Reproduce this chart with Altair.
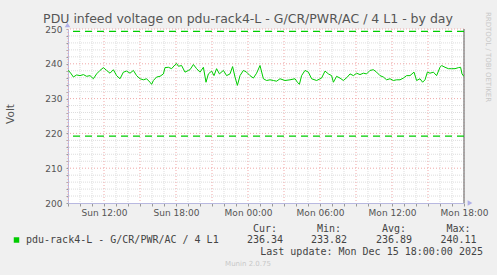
import altair as alt
import pandas as pd

# minutes after Sun 09:00 and voltage readings
minutes = [0, 10, 27, 43, 60, 77, 93, 110, 127, 143,
           160, 177, 193, 210, 227, 243, 260, 277, 293, 310,
           327, 343, 360, 377, 393, 410, 418, 427, 443, 460,
           477, 485, 502, 518, 535, 543, 552, 568, 585, 602,
           610, 627, 643, 660, 677, 690, 702, 718, 730, 743,
           757, 777, 793, 810, 823, 835, 847, 860, 877, 893,
           910, 927, 943, 960, 977, 993, 1010, 1027, 1043, 1060,
           1085, 1110, 1135, 1147, 1157, 1168, 1185, 1202, 1218, 1243,
           1268, 1285, 1302, 1318, 1327, 1343, 1360, 1377, 1397, 1410,
           1427, 1443, 1460, 1477, 1493, 1510, 1527, 1543, 1560, 1577,
           1593, 1610, 1627, 1643, 1660, 1677, 1693, 1710, 1730, 1743,
           1760, 1773, 1785, 1797, 1810, 1827, 1843, 1860, 1868, 1885,
           1902, 1918, 1935, 1952, 1963, 1970, 1980]
volts = [238.1, 237.6, 236.2, 236.8, 236.6, 236.9, 236.4, 236.6, 235.7, 237.1,
         238.1, 238.9, 238.1, 237.3, 238.3, 236.6, 235.7, 237.6, 237.9, 237.3,
         238.1, 236.6, 235.7, 235.4, 235.7, 234.7, 234.1, 235.2, 236.2, 236.4,
         237.1, 238.9, 239.0, 238.6, 239.7, 240.1, 239.3, 239.5, 237.6, 238.1,
         238.3, 239.8, 238.6, 237.6, 239.0, 234.7, 237.1, 237.9, 236.6, 238.6,
         237.1, 238.1, 236.6, 237.1, 239.2, 236.2, 233.8, 236.6, 238.1, 237.6,
         236.6, 235.9, 237.3, 239.5, 235.7, 235.2, 235.4, 235.2, 235.0, 235.7,
         235.2, 235.4, 235.7, 234.7, 234.1, 236.6, 238.1, 237.6, 235.7, 235.2,
         235.9, 237.9, 237.1, 236.6, 234.7, 236.4, 235.9, 235.2, 236.2, 237.1,
         236.6, 237.3, 236.9, 237.3, 237.1, 238.1, 238.3, 237.6, 236.6, 236.2,
         235.4, 235.7, 235.2, 235.4, 235.4, 235.9, 236.6, 236.6, 237.6, 235.2,
         235.7, 234.7, 235.4, 237.6, 237.3, 237.6, 236.6, 239.0, 239.5, 239.0,
         238.6, 238.6, 238.6, 238.9, 239.0, 237.1, 236.34]

warn_levels = [219.2, 249.3]
y_major = [210, 220, 230, 240, 250]
y_minor = [v for v in range(202, 250, 2) if v % 10 != 0]
x_major = list(range(0, 1981, 180))
x_minor = [m for m in range(60, 1981, 60) if m % 180 != 0]
tick_minutes = [180, 540, 900, 1260, 1620, 1980]
tick_labels = ["Sun 12:00", "Sun 18:00", "Mon 00:00", "Mon 06:00", "Mon 12:00", "Mon 18:00"]
y_labels = [200, 210, 220, 230, 240, 250]

series_name = "pdu-rack4-L - G/CR/PWR/AC / 4 L1"
stat_heads = ["Cur:", "Min:", "Avg:", "Max:"]
stat_values = ["236.34", "233.82", "236.89", "240.11"]

title_text = "PDU infeed voltage on pdu-rack4-L - G/CR/PWR/AC / 4 L1 - by day"

W, H = 396, 174
XMAX = 1980
xs = alt.Scale(domain=[0, XMAX], nice=False, zero=False)
ys = alt.Scale(domain=[200, 250], nice=False, zero=False)

x_label_expr = "".join(f"datum.value == {m} ? '{l}' : " for m, l in zip(tick_minutes, tick_labels)) + "''"
y_label_expr = "indexof([" + ",".join(str(v) for v in y_labels) + "], datum.value) >= 0 ? datum.value : ''"

x_axis = alt.Axis(
    values=list(range(0, 1981, 60)), labelExpr=x_label_expr, title=None,
    grid=False, domainColor="#B8B8E0", tickColor="#999999", tickSize=3,
    labelFont="DejaVu Sans", labelFontSize=9, labelColor="#555555",
    labelPadding=2, labelOverlap=False, labelFlush=False, labelBound=False)
y_axis = alt.Axis(
    values=list(range(200, 251, 2)), labelExpr=y_label_expr, title=None,
    grid=False, domainColor="#B8B8E0", tickColor="#999999", tickSize=2,
    labelFont="DejaVu Sans", labelFontSize=9, labelColor="#555555",
    labelPadding=4, labelOverlap=False, labelFlush=False, labelBound=False)

df = pd.DataFrame({"m": minutes, "v": volts})

base = alt.Chart(df).mark_line(color="#00CC00", strokeWidth=1, clip=True).encode(
    x=alt.X("m:Q", scale=xs, axis=x_axis),
    y=alt.Y("v:Q", scale=ys, axis=y_axis),
)

def hrules(vals, color, dash, width=1):
    return alt.Chart(pd.DataFrame({"y": vals})).mark_rule(color=color, strokeDash=dash, strokeWidth=width).encode(
        y=alt.Y("y:Q", scale=ys, axis=y_axis))

def vrules(vals, color, dash):
    return alt.Chart(pd.DataFrame({"x": vals})).mark_rule(color=color, strokeDash=dash, strokeWidth=1).encode(
        x=alt.X("x:Q", scale=xs, axis=x_axis))

grid_minor_h = hrules(y_minor, "#DDDDDD", [1, 1])
grid_minor_v = vrules(x_minor, "#DDDDDD", [1, 1])
grid_major_h = hrules(y_major, "#F0A8A8", [1, 2])
grid_major_v = vrules(x_major, "#F0A8A8", [1, 2])
warn = hrules(warn_levels, "#00CC00", [7, 5], width=1.2)
end_line = alt.Chart(pd.DataFrame({"x": [XMAX]})).mark_rule(color="#909090", strokeWidth=1.5).encode(
    x=alt.X("x:Q", scale=xs, axis=x_axis))

def txt(text, x, y, size=10, font="DejaVu Sans Mono", color="#444444", align="center", angle=0, baseline="middle"):
    return alt.Chart(pd.DataFrame({"t": [text]})).mark_text(
        font=font, fontSize=size, color=color, align=align, baseline=baseline, angle=angle
    ).encode(text="t:N", x=alt.value(x), y=alt.value(y))

OX, OY = 68, 29  # plot origin in page pixels

texts = [
    txt(title_text, 248 - OX, 19 - OY, size=12.5, font="DejaVu Sans", color="#555555"),
    txt("Volt", 11 - OX, 114 - OY, size=10.5, font="DejaVu Sans", color="#555555", angle=270),
    txt(series_name, 26 - OX, 240 - OY, align="left"),
    txt("Last update: Mon Dec 15 18:00:00 2025", 483 - OX, 252 - OY, align="right"),
    txt("Munin 2.0.75", 248 - OX, 264 - OY, size=7, font="DejaVu Sans", color="#C8C8C8"),
    txt("RRDTOOL / TOBI OETIKER", 488 - OX, 57 - OY, size=7, font="DejaVu Sans", color="#C8C8C8", angle=90),
]
head_x = [265, 329, 394, 458.5]
for hx, h, v in zip(head_x, stat_heads, stat_values):
    texts.append(txt(h, hx - OX, 229 - OY))
    texts.append(txt(v, hx - OX, 240 - OY))

legend_sq = alt.Chart(pd.DataFrame({"a": [1]})).mark_square(color="#00CC00", size=30, opacity=1).encode(
    x=alt.value(16.5 - OX), y=alt.value(240 - OY))
arrow_up = alt.Chart(pd.DataFrame({"a": [1]})).mark_point(shape="triangle-up", filled=True, color="#B0B0E8", size=30, opacity=1).encode(
    x=alt.value(-0.5), y=alt.value(-4))
arrow_right = alt.Chart(pd.DataFrame({"a": [1]})).mark_point(shape="triangle-right", filled=True, color="#B0B0E8", size=30, opacity=1).encode(
    x=alt.value(W + 6), y=alt.value(H))

chart = alt.layer(
    grid_minor_h, grid_minor_v, grid_major_h, grid_major_v, end_line, base, warn,
    legend_sq, arrow_up, arrow_right, *texts
).resolve_scale(x="shared", y="shared").properties(
    width=W, height=H,
    autosize="none",
    padding={"left": OX, "top": OY, "right": 497 - OX - W, "bottom": 275 - OY - H},
    background="#F0F0F0",
).configure_view(fill="white", stroke=None)

chart.save("out.html", embed_options={"renderer": "svg", "actions": False})
